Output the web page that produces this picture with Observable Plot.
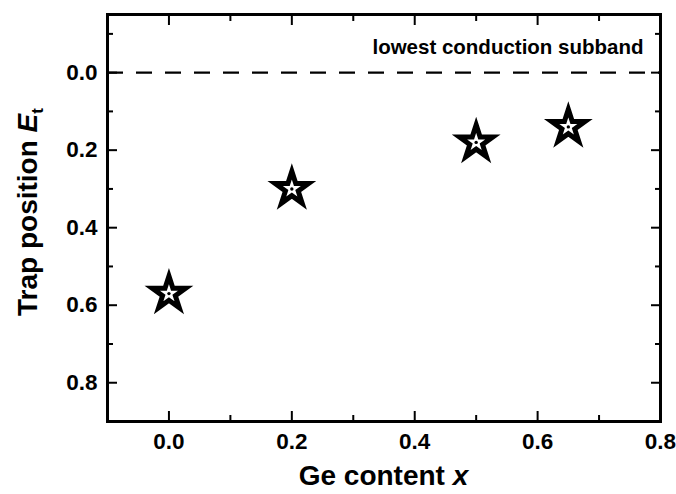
<!DOCTYPE html>
<html>
<head>
<meta charset="utf-8">
<script src="https://cdn.jsdelivr.net/npm/d3@7"></script>
<script src="https://cdn.jsdelivr.net/npm/@observablehq/plot@0.6"></script>
<style>
  html, body { margin: 0; padding: 0; background: #fff; }
</style>
</head>
<body>
<div id="chart"></div>
<script>
// ---- data ----
const geContent = [0.0, 0.2, 0.5, 0.65];
const trapPosition = [0.57, 0.30, 0.18, 0.14];
const subbandLevel = [0];
const subbandLabel = ["lowest conduction subband"];
const xMajorTicks = [0.0, 0.2, 0.4, 0.6, 0.8];
const xMinorTicks = [0.1, 0.3, 0.5, 0.7];
const yMajorTicks = [0.0, 0.2, 0.4, 0.6, 0.8];
const yMinorTicks = [-0.1, 0.1, 0.3, 0.5, 0.7];
const xDomain = [-0.1, 0.8];
const yDomain = [-0.15, 0.9];
const xTitle = ["Ge content ", "x"];
const yTitle = ["Trap position ", "E", "t"];

const points = geContent.map((x, i) => ({x, y: trapPosition[i]}));
const fmt = d3.format(".1f");
const blank = () => "";

const tickAxes = [];
for (const anchor of ["bottom", "top"]) {
  tickAxes.push(Plot.axisX(xMajorTicks, {anchor, tickSize: -10, tickFormat: blank, label: null, strokeWidth: 2}));
  tickAxes.push(Plot.axisX(xMinorTicks, {anchor, tickSize: -6, tickFormat: blank, label: null, strokeWidth: 2}));
}
for (const anchor of ["left", "right"]) {
  tickAxes.push(Plot.axisY(yMajorTicks, {anchor, tickSize: -10, tickFormat: blank, label: null, strokeWidth: 2}));
  tickAxes.push(Plot.axisY(yMinorTicks, {anchor, tickSize: -6, tickFormat: blank, label: null, strokeWidth: 2}));
}

const svg = Plot.plot({
  width: 676,
  height: 494,
  marginLeft: 107,
  marginRight: 16,
  marginTop: 14,
  marginBottom: 73,
  style: {fontFamily: "'Liberation Sans', Arial, sans-serif", fontSize: "22px", fontWeight: "bold", color: "#000", background: "#fff"},
  x: {domain: xDomain, label: null},
  y: {domain: yDomain, reverse: true, label: null},
  marks: [
    Plot.ruleY(subbandLevel, {stroke: "#000", strokeWidth: 2.4, strokeDasharray: "16,13"}),
    ...tickAxes,
    Plot.axisX(xMajorTicks, {anchor: "bottom", tickSize: 0, tickPadding: 12, tickFormat: fmt, label: null, fontSize: 22.5, fontWeight: "bold"}),
    Plot.axisY(yMajorTicks, {anchor: "left", tickSize: 0, tickPadding: 10, tickFormat: fmt, label: null, fontSize: 22.5, fontWeight: "bold"}),
    Plot.frame({stroke: "#000", strokeWidth: 3}),
    Plot.dot(points, {x: "x", y: "y", symbol: "star", r: 10.5, stroke: "#000", strokeWidth: 5, fill: "#fff"}),
    Plot.dot(points, {x: "x", y: "y", r: 1.7, fill: "#000"}),
    Plot.text(subbandLabel, {text: d => d, frameAnchor: "top-right", dx: -17, dy: 39, lineAnchor: "bottom", textAnchor: "end", fontSize: 20.5, fontWeight: "bold", fill: "#000"})
  ]
});

const s = d3.select(svg);

// x title
const xt = s.append("text")
  .attr("x", 383.5).attr("y", 485)
  .attr("text-anchor", "middle")
  .style("font-size", "28px").style("font-weight", "bold").attr("fill", "#000");
xt.append("tspan").text(xTitle[0]);
xt.append("tspan").style("font-style", "italic").text(xTitle[1]);

// y title
const yt = s.append("text")
  .attr("transform", "translate(37,212) rotate(-90)")
  .attr("text-anchor", "middle")
  .style("font-size", "28px").style("font-weight", "bold").attr("fill", "#000");
yt.append("tspan").text(yTitle[0]);
yt.append("tspan").style("font-style", "italic").text(yTitle[1]);
yt.append("tspan").style("font-size", "17px").attr("dy", 6).text(yTitle[2]);

document.getElementById("chart").appendChild(svg);
</script>
</body>
</html>
